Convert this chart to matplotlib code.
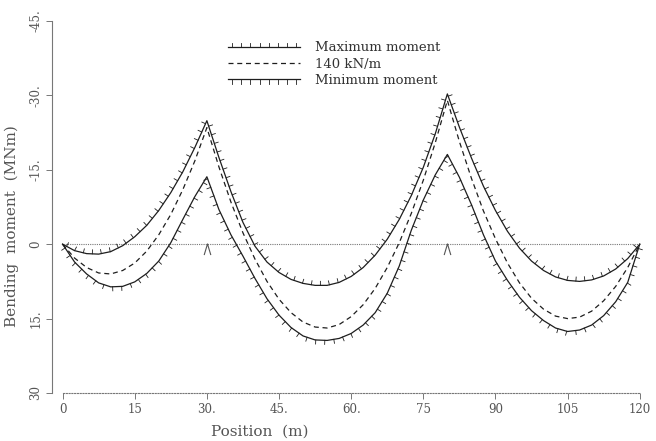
import numpy as np
import matplotlib
matplotlib.use('Agg')
import matplotlib.pyplot as plt
import matplotlib.patheffects as pe

# positions along the beam (m), every 2.5 m
position = np.linspace(0, 120, 49)

# bending moment envelopes (MNm)
max_moment = [0, 1.3, 1.9, 2.0, 1.5, 0.3, -1.5, -3.8, -6.8, -10.4, -14.6, -19.5, -24.9,
              -17.5, -10.6, -4.4, 0.4, 3.6, 5.7, 7.1, 7.9, 8.3, 8.3, 7.7, 6.5, 4.7, 2.2,
              -1.0, -5.0, -9.8, -15.5, -22.3, -30.3,
              -23.6, -17.4, -11.7, -6.8, -2.6, 0.8, 3.4, 5.3, 6.6, 7.3, 7.5, 7.2, 6.4,
              5.0, 2.9, 0]
udl_moment = [0, 2.8, 4.7, 5.8, 6.0, 5.3, 3.8, 1.4, -1.9, -6.0, -11.0, -16.8, -23.5,
              -15.6, -8.5, -2.3, 3.0, 7.5, 11.1, 13.8, 15.7, 16.7, 16.9, 16.2, 14.6, 12.2,
              8.9, 4.7, -0.3, -6.2, -12.9, -20.5, -29.0,
              -20.7, -13.3, -6.7, -1.1, 3.8, 7.8, 10.9, 13.1, 14.5, 15.0, 14.7, 13.5, 11.4,
              8.5, 4.7, 0]
min_moment = [0, 3.6, 6.0, 7.8, 8.6, 8.5, 7.6, 5.9, 3.4, -0.3, -5.0, -9.6, -13.6,
              -7.0, -1.9, 2.4, 6.9, 11.0, 14.3, 16.8, 18.5, 19.3, 19.4, 19.0, 18.0, 16.3,
              13.8, 9.9, 4.4, -2.8, -8.9, -14.0, -18.1,
              -13.5, -8.0, -1.9, 3.4, 7.3, 10.7, 13.4, 15.4, 16.9, 17.6, 17.3, 16.3, 14.4,
              11.6, 7.7, 0]

supports = [0, 30, 80, 120]
inner_supports = [30, 80]

xticks = [0, 15, 30, 45, 60, 75, 90, 105, 120]
xticklabels = ['0', '15', '30.', '45.', '60.', '75', '90', '105', '120']
yticks = [-45, -30, -15, 0, 15, 30]
yticklabels = ['-45.', '-30.', '-15.', '0', '15.', '30']

plt.rcParams['font.family'] = ['DejaVu Serif']
txt = '#555555'
ink = '#1e1e1e'

fig = plt.figure(figsize=(6.56, 4.41), dpi=100)
ax = fig.add_axes([52 / 656, (441 - 393) / 441, 594 / 656, 372 / 441])

# zero line and supports
ax.plot([supports[0], supports[-1]], [0, 0], color='#777777', lw=0.8, ls=(0, (1, 1)))
caret = [(-0.6, -1), (0, 1), (0.6, -1)]
ax.plot(inner_supports, [1.0] * len(inner_supports), ls='none', marker=caret,
        ms=8, mfc='none', mec='#555555', mew=0.8)

tick_up = [pe.withTickedStroke(angle=90, spacing=6.5, length=0.45, linewidth=0.6)]
tick_dn = [pe.withTickedStroke(angle=-90, spacing=6.5, length=0.45, linewidth=0.6)]

ax.plot(position, max_moment, color=ink, lw=0.9, path_effects=tick_up,
        label='Maximum moment')
ax.plot(position, udl_moment, color=ink, lw=0.9, ls=(0, (4, 3)), label='140 kN/m')
ax.plot(position, min_moment, color=ink, lw=0.9, path_effects=tick_dn,
        label='Minimum moment')

ax.set_xlim(-2.2, 121.3)
ax.set_ylim(30, -45)

ax.spines['top'].set_visible(False)
ax.spines['right'].set_visible(False)
ax.spines['bottom'].set_bounds(0, 120)
ax.spines['bottom'].set_linestyle((0, (1, 1.5)))
ax.spines['bottom'].set_color('#777777')
ax.spines['left'].set_color('#777777')
ax.spines['left'].set_linewidth(0.8)
ax.spines['bottom'].set_linewidth(0.8)

ax.set_xticks(xticks)
ax.set_xticklabels(xticklabels, fontsize=8.5, color=txt)
ax.set_yticks(yticks)
ax.set_yticklabels(yticklabels, fontsize=8.5, color=txt, rotation=90, va='center')
ax.tick_params(direction='out', length=4, width=0.7, color='#777777', pad=3)

ax.set_xlabel('Position  (m)', fontsize=11, color=txt)
ax.xaxis.set_label_coords(0.35, -0.085)
ax.set_ylabel('Bending  moment  (MNm)', fontsize=11, color=txt)
ax.yaxis.set_label_coords(-0.056, 0.45)

leg = ax.legend(loc='upper left', bbox_to_anchor=(0.296, 0.945), frameon=False,
                fontsize=9.5, handlelength=5.5, handletextpad=1.1, labelspacing=0.25,
                borderpad=0, borderaxespad=0)
for t in leg.get_texts():
    t.set_color('#333333')
lines = leg.get_lines()
lines[0].set_path_effects(tick_up)
lines[2].set_path_effects(tick_dn)

fig.savefig('out.png', dpi=100)
